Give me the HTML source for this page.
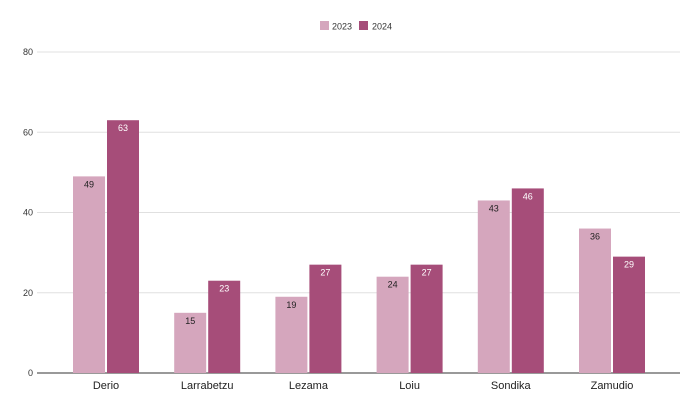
<!DOCTYPE html>
<html><head><meta charset="utf-8"><style>
body{margin:0;background:#fff;}
svg{display:block;font-family:"Liberation Sans",sans-serif;}
</style></head><body>
<svg id="chart" width="700" height="411">
<g id="legend">
<rect x="320" y="21" width="9" height="9" fill="#d5a6bd"/>
<text x="332" y="29.5" font-size="9" fill="#333">2023</text>
<rect x="359" y="21" width="9" height="9" fill="#a64d79"/>
<text x="372" y="29.5" font-size="9" fill="#333">2024</text>
</g>
<g id="grid"></g><g id="bars"></g><g id="labels"></g>
</svg>
<script>
const categories = ["Derio","Larrabetzu","Lezama","Loiu","Sondika","Zamudio"];
const values2023 = [49,15,19,24,43,36];
const values2024 = [63,23,27,27,46,29];
const yTicks = [0,20,40,60,80];
const NS="http://www.w3.org/2000/svg";
const y0=373, y80=52, xl=37, xr=680, firstCenter=106, band=101.2;
function y(v){return y0-(v/80)*(y0-y80);}
function xc(i){return firstCenter+i*band;}
function mk(t,a,p){const e=document.createElementNS(NS,t);for(const k in a)e.setAttribute(k,a[k]);document.getElementById(p).appendChild(e);return e;}
yTicks.forEach(t=>{
  const l=mk('line',{x1:xl,x2:xr,y1:y(t),y2:y(t),stroke:t===0?'#333':'#e0e0e0','stroke-width':1},'grid');
  
  
  const tx=mk('text',{x:33,y:y(t)+3,'font-size':9,'text-anchor':'end',fill:'#333'},'grid');
  tx.textContent=t;
  
  
});
categories.forEach((c,i)=>{
  const cx=xc(i);
  [[values2023,'#d5a6bd',cx-33,'#222','2023'],[values2024,'#a64d79',cx+1,'#fff','2024']].forEach(([arr,col,x,tc,s])=>{
    const v=arr[i];
    const r=mk('rect',{x:x,y:y(v),width:32,height:y0-y(v),fill:col},'bars');
    
    
    const t=mk('text',{x:x+16,y:y(v)+11,'font-size':9,'text-anchor':'middle',fill:tc},'labels');
    t.textContent=v;
    
    
  });
  const lb=mk('text',{x:cx,y:389,'font-size':11,'text-anchor':'middle',fill:'#222'},'labels');
  lb.textContent=c;
  
  
});
</script>
</body></html>
